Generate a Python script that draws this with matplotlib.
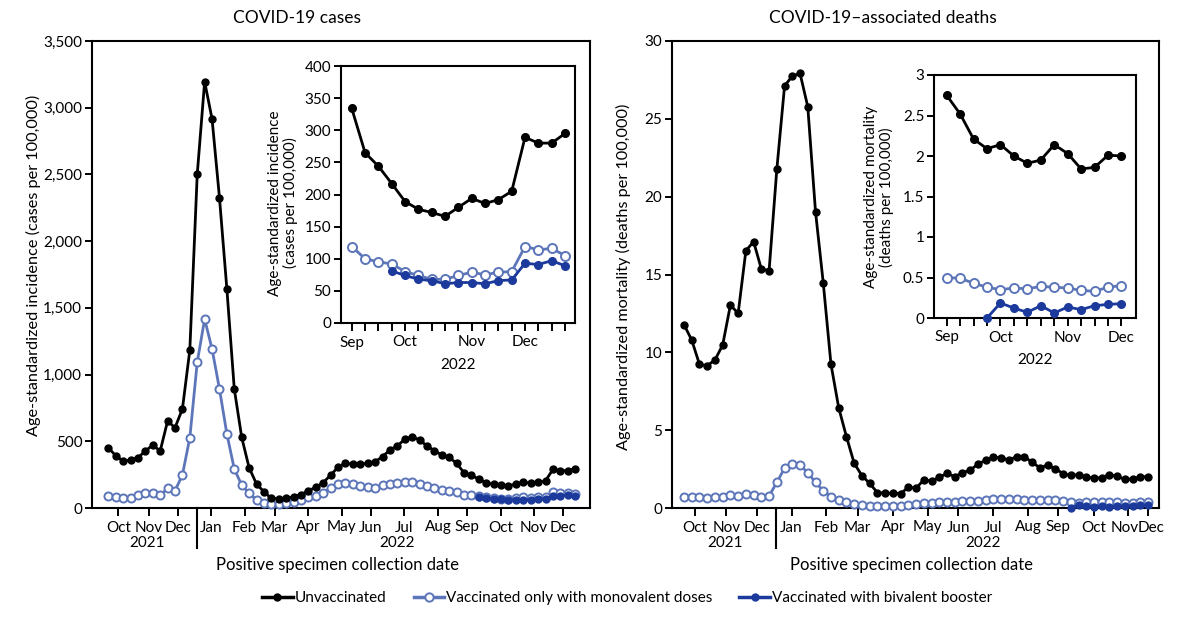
import numpy as np
import matplotlib
matplotlib.use("Agg")
import matplotlib.pyplot as plt
from matplotlib.transforms import blended_transform_factory, ScaledTranslation
from matplotlib.lines import Line2D

plt.rcParams['font.family'] = ['Lato', 'DejaVu Sans']

# ---------------- data (weekly, from week of Oct 10 2021) ----------------
cases_unvax = [452, 392, 352, 360, 377, 427, 472, 427, 652, 602, 742, 1184, 2501, 3195,
               2916, 2326, 1641, 892, 530, 302, 180, 122, 72, 70, 72, 85, 100, 130, 155,
               190, 247, 305, 335, 330, 330, 335, 347, 385, 435, 465, 515, 535, 510, 465,
               430, 397, 380,
               334, 265, 244, 217, 189, 177, 172, 166, 180, 194, 186, 192, 205, 289, 280, 280, 295]
cases_mono = [92, 80, 72, 77, 95, 110, 110, 95, 147, 130, 247, 527, 1092, 1416, 1192, 892,
              555, 292, 172, 110, 60, 40, 30, 30, 35, 47, 60, 85, 92, 115, 152, 180, 185,
              180, 165, 155, 152, 172, 180, 185, 195, 197, 180, 165, 147, 135, 127,
              119, 100, 95, 92, 80, 74, 68, 68, 74, 79, 75, 79, 80, 119, 114, 116, 105]
cases_biv = [np.nan] * 50 + [81, 74, 68, 66, 61, 63, 63, 61, 66, 67, 93, 91, 97, 89]

deaths_unvax = [11.78, 10.79, 9.23, 9.14, 9.51, 10.47, 13.04, 12.5, 16.53, 17.11, 15.35,
                15.25, 21.76, 27.11, 27.75, 27.92, 25.78, 19.04, 14.47, 9.23, 6.44, 4.58,
                2.87, 2.08, 1.58, 0.99, 0.95, 0.95, 0.93, 1.33, 1.28, 1.80, 1.73, 1.97,
                2.23, 2.01, 2.27, 2.44, 2.81, 3.08, 3.25, 3.23, 3.08, 3.30, 3.30, 2.93, 2.59,
                2.75, 2.52, 2.21, 2.09, 2.14, 2.00, 1.91, 1.95, 2.14, 2.03, 1.84, 1.86, 2.01, 2.00]
deaths_mono = [0.73, 0.71, 0.69, 0.66, 0.70, 0.73, 0.83, 0.78, 0.89, 0.83, 0.73, 0.77, 1.65,
               2.55, 2.83, 2.76, 2.27, 1.65, 1.11, 0.73, 0.51, 0.36, 0.26, 0.19, 0.15, 0.13,
               0.13, 0.14, 0.16, 0.20, 0.24, 0.30, 0.33, 0.36, 0.40, 0.41, 0.44, 0.45, 0.48,
               0.53, 0.60, 0.58, 0.55, 0.55, 0.53, 0.52, 0.51,
               0.50, 0.49, 0.43, 0.38, 0.35, 0.37, 0.36, 0.39, 0.38, 0.37, 0.34, 0.33, 0.38, 0.40]
deaths_biv = [np.nan] * 50 + [0.0, 0.185, 0.123, 0.07, 0.152, 0.062, 0.136, 0.103, 0.152, 0.168, 0.177]

inset_cases_start = 47   # inset shows week of Sep 4 2022 onward
inset_deaths_start = 47

month_labels = ['Oct', 'Nov', 'Dec', 'Jan', 'Feb', 'Mar', 'Apr', 'May', 'Jun', 'Jul',
                'Aug', 'Sep', 'Oct', 'Nov', 'Dec']
inset_month_labels = ['Sep', 'Oct', 'Nov', 'Dec']
series_names = ['Unvaccinated', 'Vaccinated only with monovalent doses',
                'Vaccinated with bivalent booster']

# ---------------- style ----------------
BLACK = '#000000'
MONO = '#5c76b9'
BIV = '#1b3a9c'
W, H = 1200, 622
FS = 11

fig = plt.figure(figsize=(12, 6.22), dpi=100)


def fx(px):
    return px / W


def fy(py):
    return 1 - py / H


def axes_px(x0, x1, y0, y1):
    return [fx(x0), fy(y1), (x1 - x0) / W, (y1 - y0) / H]


def draw_series(ax, x, unv, mono, biv, big=True):
    ms_b = 5.0 if big else 5.5
    ms_m = 5.8 if big else 6.5
    ax.plot(x, mono, color=MONO, lw=2.0, marker='o', ms=ms_m, mfc='white',
            mec=MONO, mew=1.4, clip_on=False, zorder=3)
    ax.plot(x, biv, color=BIV, lw=2.0, marker='o', ms=ms_b, mfc=BIV,
            mec=BIV, clip_on=False, zorder=4)
    ax.plot(x, unv, color=BLACK, lw=2.0, marker='o', ms=ms_b, mfc=BLACK,
            mec=BLACK, clip_on=False, zorder=5)


def style_axes(ax):
    for s in ax.spines.values():
        s.set_linewidth(1.5)
    ax.tick_params(axis='both', direction='out', width=1.4, labelsize=FS, colors='black')
    ax.tick_params(axis='y', length=5, pad=2)
    ax.tick_params(axis='x', length=6, pad=3)


# ---------------- main panels ----------------
left_ticks = [1.37, 5.46, 9.43, 13.92, 18.4, 22.43, 27.0, 31.48, 35.45, 39.94,
              44.49, 48.38, 52.95, 57.41, 61.4]
right_ticks = left_ticks[:-1] + [60.0]
separator = 11.94

panels = [
    dict(rect=axes_px(92, 590, 41, 508), unv=cases_unvax, mono=cases_mono, biv=cases_biv,
         ylim=(0, 3500), yticks=np.arange(0, 3501, 500), xlim=(-2.2, 65.0), xticks=left_ticks,
         yfmt=lambda v: f'{int(v):,}',
         ylabel='Age-standardized incidence (cases per 100,000)', ylabel_px=(33, 265),
         title='COVID-19 cases', title_px=297, y21=5.22, y22=38.97, xlabel_px=337,
         squeeze=False),
    dict(rect=axes_px(672, 1159, 41, 508), unv=deaths_unvax, mono=deaths_mono, biv=deaths_biv,
         ylim=(0, 30), yticks=np.arange(0, 31, 5), xlim=(-1.55, 61.4), xticks=right_ticks,
         yfmt=lambda v: f'{int(v)}',
         ylabel='Age-standardized mortality (deaths per 100,000)', ylabel_px=(623, 277),
         title='COVID-19–associated deaths', title_px=883, y21=5.3, y22=38.7, xlabel_px=912,
         squeeze=True),
]

for p in panels:
    ax = fig.add_axes(p['rect'])
    x = np.arange(len(p['unv']))
    draw_series(ax, x, p['unv'], p['mono'], p['biv'])
    ax.set_xlim(*p['xlim'])
    ax.set_ylim(*p['ylim'])
    ax.set_yticks(p['yticks'])
    ax.set_yticklabels([p['yfmt'](v) for v in p['yticks']])
    ax.set_xticks(p['xticks'])
    ax.set_xticklabels(month_labels)
    style_axes(ax)
    if p['squeeze']:
        # last two labels sit very close together: nudge them apart slightly
        lbls = ax.get_xticklabels()
        lbls[-2].set_transform(lbls[-2].get_transform() +
                               ScaledTranslation(-3 / 100, 0, fig.dpi_scale_trans))
        lbls[-1].set_transform(lbls[-1].get_transform() +
                               ScaledTranslation(3 / 100, 0, fig.dpi_scale_trans))
    tr = blended_transform_factory(ax.transData, ax.transAxes)
    ax.plot([separator, separator], [0, -40 / 467], transform=tr, color='black',
            lw=1.5, clip_on=False)
    ax.text(p['y21'], -35 / 467, '2021', transform=tr, ha='center', va='center', fontsize=FS)
    ax.text(p['y22'], -35 / 467, '2022', transform=tr, ha='center', va='center', fontsize=FS)
    fig.text(fx(p['xlabel_px']), fy(565), 'Positive specimen collection date',
             ha='center', va='center', fontsize=FS + 1)
    fig.text(fx(p['ylabel_px'][0]), fy(p['ylabel_px'][1]), p['ylabel'], rotation=90,
             ha='center', va='center', fontsize=FS + 0.7)
    fig.text(fx(p['title_px']), fy(18), p['title'], ha='center', va='center', fontsize=FS + 1.5)

# ---------------- insets ----------------
insets = [
    dict(rect=axes_px(340.7, 575, 66, 323), unv=cases_unvax[inset_cases_start:],
         mono=cases_mono[inset_cases_start:], biv=cases_biv[inset_cases_start:],
         ylim=(0, 400), yticks=np.arange(0, 401, 50), yfmt=lambda v: f'{int(v)}',
         xlim=(-0.83, 16.75),
         ylabel='Age-standardized incidence\n(cases per 100,000)', ylabel_px=(283, 203)),
    dict(rect=axes_px(934, 1136, 75, 318), unv=deaths_unvax[inset_deaths_start:],
         mono=deaths_mono[inset_deaths_start:], biv=deaths_biv[inset_deaths_start:],
         ylim=(0, 3), yticks=[0, 0.5, 1, 1.5, 2, 2.5, 3], yfmt=lambda v: f'{v:g}',
         xlim=(-0.94, 14.08),
         ylabel='Age-standardized mortality\n(deaths per 100,000)', ylabel_px=(879, 197)),
]

for p in insets:
    ax = fig.add_axes(p['rect'])
    n = len(p['unv'])
    x = np.arange(n)
    draw_series(ax, x, p['unv'], p['mono'], p['biv'], big=False)
    ax.set_xlim(*p['xlim'])
    ax.set_ylim(*p['ylim'])
    ax.set_yticks(p['yticks'])
    ax.set_yticklabels([p['yfmt'](v) for v in p['yticks']])
    ax.set_xticks(x)
    labels = [''] * n
    for pos, lab in zip([0, 4, 9, 13], inset_month_labels):
        labels[pos] = lab
    ax.set_xticklabels(labels)
    style_axes(ax)
    ax.set_facecolor('white')
    tr = blended_transform_factory(ax.transAxes, ax.transAxes)
    ax.text(0.5, -42 / (p['rect'][3] * H), '2022', transform=tr, ha='center',
            va='center', fontsize=FS)
    fig.text(fx(p['ylabel_px'][0]), fy(p['ylabel_px'][1]), p['ylabel'], rotation=90,
             ha='center', va='center', fontsize=FS, linespacing=1.1)

# ---------------- legend ----------------
handles = [
    Line2D([], [], color=BLACK, lw=2.5, marker='o', ms=5, mfc=BLACK, mec=BLACK),
    Line2D([], [], color=MONO, lw=2.5, marker='o', ms=6, mfc='white', mec=MONO, mew=1.4),
    Line2D([], [], color=BIV, lw=2.5, marker='o', ms=5, mfc=BIV, mec=BIV),
]
fig.legend(handles, series_names, loc='center', bbox_to_anchor=(fx(627), fy(598)),
           ncol=3, frameon=False, fontsize=FS, handlelength=2.0, handletextpad=0.1,
           columnspacing=1.8)

fig.savefig('out.png', dpi=100)
